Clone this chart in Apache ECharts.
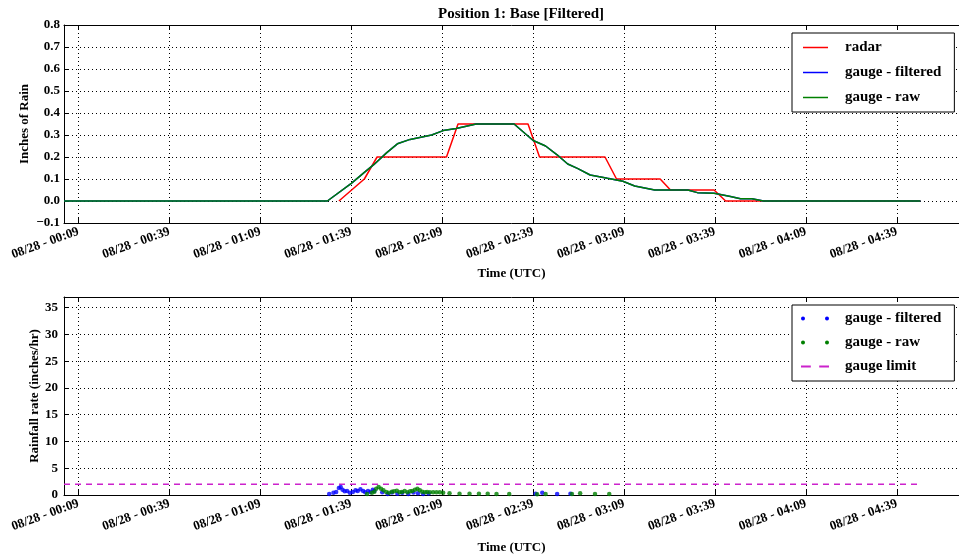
<!DOCTYPE html>
<html>
<head>
<meta charset="utf-8">
<script src="https://cdn.jsdelivr.net/npm/echarts@6/dist/echarts.min.js"></script>
<style>
  html, body { margin: 0; padding: 0; background: #fff; }
  #chart { width: 959px; height: 557px; }
</style>
</head>
<body>
<div id="chart"></div>
<script>
// ---- data -------------------------------------------------------------
const dateLabel = '08/28';
const tickTimes = ['00:09', '00:39', '01:09', '01:39', '02:09', '02:39', '03:09', '03:39', '04:09', '04:39'];
const axisStart = '00:04:12';
const axisEnd = '04:59:30';

// accumulated rain, radar estimate (inches)
const radarTimes = ['01:34:54', '01:43:18', '01:47:30', '02:10:24', '02:14:12', '02:37:18', '02:41:06',
  '03:02:42', '03:06:30', '03:20:54', '03:24:18', '03:38:42', '03:42:30', '04:46:48'];
const radarValues = [0, 0.1, 0.2, 0.2, 0.35, 0.35, 0.2, 0.2, 0.1, 0.1, 0.05, 0.05, 0, 0];

// accumulated rain, gauge (inches)
const gaugeTimes = ['00:04:12', '01:31:06', '01:39:00', '01:43:18', '01:46:24', '01:50:42', '01:54:12',
  '01:58:24', '02:05:30', '02:09:18', '02:13:36', '02:20:12', '02:32:42', '02:39:00', '02:43:06',
  '02:46:54', '02:50:24', '02:53:36', '02:57:48', '03:03:30', '03:08:36', '03:12:30', '03:19:06',
  '03:30:00', '03:33:12', '03:38:42', '03:44:06', '03:47:24', '03:51:12', '03:55:00', '04:46:48'];
const gaugeFilteredValues = [0, 0, 0.08, 0.13, 0.165, 0.22, 0.26, 0.28, 0.30, 0.32, 0.33, 0.35, 0.35,
  0.275, 0.25, 0.21, 0.168, 0.148, 0.118, 0.103, 0.09, 0.068, 0.05, 0.05, 0.038, 0.035, 0.02, 0.01,
  0.01, 0, 0];
const gaugeRawValues = [0, 0, 0.08, 0.13, 0.165, 0.22, 0.26, 0.28, 0.30, 0.32, 0.33, 0.35, 0.35,
  0.275, 0.25, 0.21, 0.168, 0.148, 0.118, 0.103, 0.09, 0.068, 0.05, 0.05, 0.038, 0.035, 0.02, 0.01,
  0.01, 0, 0];

// rainfall rate (inches/hr)
const rateFilteredTimes = ['01:31:42', '01:33:06', '01:34:00', '01:34:54', '01:35:30', '01:36:06',
  '01:36:48', '01:37:36', '01:38:30', '01:39:30', '01:40:24', '01:41:06', '01:42:00', '01:42:54',
  '01:43:36', '01:44:30', '01:45:18', '01:46:06', '01:46:36', '01:49:12', '01:51:00', '01:52:24',
  '01:54:12', '01:55:48', '01:57:48', '01:59:30', '02:01:00', '02:02:42', '02:04:30',
  '02:39:48', '02:42:00', '02:46:54', '02:51:18'];
const rateFilteredValues = [0.19, 0.44, 0.56, 1.31, 1.5, 1.0, 0.69, 0.75, 0.44, 0.56, 0.88, 0.75, 1.06,
  0.75, 0.5, 0.75, 0.56, 1.0, 0.75, 0.5, 0.19, 0.45, 0.25, 0.4, 0.19, 0.45, 0.35, 0.19, 0.3,
  0.25, 0.44, 0.19, 0.25];
const rateRawTimes = ['01:44:12', '01:45:48', '01:46:36', '01:47:12', '01:48:00', '01:48:48', '01:49:36',
  '01:50:30', '01:51:24', '01:52:24', '01:53:06', '01:54:00', '01:54:54', '01:55:42', '01:56:36',
  '01:57:30', '01:58:24', '01:59:06', '02:00:00', '02:00:48', '02:01:36', '02:02:24', '02:03:18',
  '02:04:00', '02:04:54', '02:06:00', '02:07:06', '02:08:12', '02:09:18', '02:11:24', '02:14:42',
  '02:18:00', '02:21:06', '02:24:00', '02:26:54', '02:31:06', '02:40:18', '02:43:06', '02:51:48',
  '02:54:30', '02:59:24', '03:04:06'];
const rateRawValues = [0.19, 0.44, 0.63, 1.19, 1.5, 1.19, 0.88, 0.56, 0.44, 0.63, 0.69, 0.81, 0.5, 0.56,
  0.75, 0.5, 0.69, 0.75, 1.0, 1.19, 0.88, 0.63, 0.5, 0.56, 0.5, 0.5, 0.5, 0.5, 0.44, 0.31, 0.25,
  0.25, 0.25, 0.25, 0.19, 0.19, 0.13, 0.19, 0.19, 0.31, 0.19, 0.19];

const gaugeLimit = 2.0;

// ---- helpers ----------------------------------------------------------
const FONT = 'Liberation Serif';
const toMin = t => {
  const p = t.split(':').map(Number);
  return p[0] * 60 + p[1] + (p[2] || 0) / 60;
};
const pad2 = n => String(n).padStart(2, '0');
const minLabel = v => {
  const m = Math.round(v);
  return dateLabel + ' - ' + pad2(Math.floor(m / 60)) + ':' + pad2(m % 60);
};
const pairs = (times, values) => times.map((t, i) => [toMin(t), values[i]]);
const tickValues = tickTimes.map(toMin);
const xMin = toMin(axisStart);
const xMax = toMin(axisEnd);
const gaugeSpan = [toMin(gaugeTimes[0]), toMin(gaugeTimes[gaugeTimes.length - 1])];

const boldText = size => ({ fontFamily: FONT, fontWeight: 'bold', fontSize: size, color: '#000' });
const gridDots = { show: true, lineStyle: { color: '#000', width: 1, type: [1, 3] } };

function bottomTimeAxis(gridIndex, nameGap) {
  return {
    type: 'value', gridIndex, position: 'bottom', min: xMin, max: xMax,
    axisLine: { show: true, onZero: false, lineStyle: { color: '#000', width: 1 } },
    axisTick: { show: true, inside: true, length: 5, customValues: tickValues, lineStyle: { color: '#000' } },
    axisLabel: Object.assign({ customValues: tickValues, formatter: minLabel, rotate: 20, margin: 8 }, boldText(13)),
    splitLine: gridDots,
    name: 'Time (UTC)', nameLocation: 'middle', nameGap, nameTextStyle: boldText(13)
  };
}
function topTimeAxis(gridIndex) {
  return {
    type: 'value', gridIndex, position: 'top', min: xMin, max: xMax,
    axisLine: { show: true, onZero: false, lineStyle: { color: '#000', width: 1 } },
    axisTick: { show: true, inside: true, length: 5, customValues: tickValues, lineStyle: { color: '#000' } },
    axisLabel: { show: false },
    splitLine: { show: false }
  };
}

const chart = echarts.init(document.getElementById('chart'), null, { renderer: 'canvas' });

// legend glyphs: plain stroke, pair of dots, and two dashes
const lineIcon = 'path://M0,0h25v1.5h-25z';
const dotsIcon = 'path://M0,2a2,2 0 1,0 4,0a2,2 0 1,0 -4,0M24,2a2,2 0 1,0 4,0a2,2 0 1,0 -4,0';
const dashIcon = 'path://M0,0h7v1.5h-7zM13,0h7v1.5h-7z';

chart.setOption({
  animation: false,
  backgroundColor: '#fff',
  title: {
    text: 'Position 1: Base [Filtered]',
    left: 516, top: 2, textAlign: 'center',
    textStyle: boldText(15)
  },
  grid: [
    { left: 64, top: 25, right: -8, height: 198, containLabel: false },
    { left: 64, top: 297, right: -8, height: 198, containLabel: false }
  ],
  xAxis: [bottomTimeAxis(0, 44), topTimeAxis(0), bottomTimeAxis(1, 46), topTimeAxis(1)],
  yAxis: [
    {
      type: 'value', gridIndex: 0, min: -0.1, max: 0.8, interval: 0.1,
      axisLine: { show: true, lineStyle: { color: '#000', width: 1 } },
      axisTick: { show: true, inside: true, length: 5, lineStyle: { color: '#000' } },
      axisLabel: Object.assign({
        margin: 4,
        formatter: v => (v < -1e-9 ? '\u2212' : '') + Math.abs(v).toFixed(1)
      }, boldText(13)),
      splitLine: gridDots,
      name: 'Inches of Rain', nameLocation: 'middle', nameGap: 33, nameMoveOverlap: false,
      nameTextStyle: boldText(13)
    },
    {
      type: 'value', gridIndex: 1, min: 0, max: 37, interval: 5,
      axisLine: { show: true, lineStyle: { color: '#000', width: 1 } },
      axisTick: { show: true, inside: true, length: 5, lineStyle: { color: '#000' } },
      axisLabel: Object.assign({ margin: 6, showMaxLabel: false }, boldText(13)),
      splitLine: gridDots,
      name: 'Rainfall rate (inches/hr)', nameLocation: 'middle', nameGap: 23, nameMoveOverlap: false,
      nameTextStyle: boldText(13)
    }
  ],
  legend: [
    {
      orient: 'vertical', left: 792, top: 33,
      itemWidth: 25, itemHeight: 14, itemGap: 10,
      padding: [7, 13, 7, 11],
      borderColor: '#000', borderWidth: 1, backgroundColor: '#fff',
      selectedMode: false,
      textStyle: Object.assign({ padding: [0, 0, 0, 12] }, boldText(15)),
      data: [
        { name: 'radar', icon: lineIcon },
        { name: 'gauge - filtered', icon: lineIcon },
        { name: 'gauge - raw', icon: lineIcon }
      ]
    },
    {
      orient: 'vertical', left: 792, top: 305,
      itemWidth: 28, itemHeight: 14, itemGap: 9,
      padding: [6, 13, 7, 9],
      borderColor: '#000', borderWidth: 1, backgroundColor: '#fff',
      selectedMode: false,
      textStyle: Object.assign({ padding: [0, 0, 0, 11] }, boldText(15)),
      data: [
        { name: 'gauge - filtered', icon: dotsIcon },
        { name: 'gauge - raw', icon: dotsIcon },
        { name: 'gauge limit', icon: dashIcon }
      ]
    }
  ],
  series: [
    {
      name: 'radar', type: 'line', xAxisIndex: 0, yAxisIndex: 0, symbol: 'none', z: 2,
      color: '#ff0000', lineStyle: { color: '#ff0000', width: 1.5 },
      data: pairs(radarTimes, radarValues)
    },
    {
      name: 'gauge - filtered', type: 'line', xAxisIndex: 0, yAxisIndex: 0, symbol: 'none', z: 3,
      color: '#0000ff', lineStyle: { color: '#0000ff', width: 1.5 },
      data: pairs(gaugeTimes, gaugeFilteredValues)
    },
    {
      name: 'gauge - raw', type: 'line', xAxisIndex: 0, yAxisIndex: 0, symbol: 'none', z: 4,
      color: '#008000', lineStyle: { color: '#008000', width: 1.5 },
      data: pairs(gaugeTimes, gaugeRawValues)
    },
    {
      name: 'gauge - filtered', type: 'scatter', xAxisIndex: 2, yAxisIndex: 1, symbolSize: 4.5, z: 3,
      color: '#0000ff', itemStyle: { color: '#0000ff' },
      data: pairs(rateFilteredTimes, rateFilteredValues)
    },
    {
      name: 'gauge - raw', type: 'scatter', xAxisIndex: 2, yAxisIndex: 1, symbolSize: 4.5, z: 4,
      color: '#008000', itemStyle: { color: '#008000' },
      data: pairs(rateRawTimes, rateRawValues)
    },
    {
      name: 'gauge limit', type: 'line', xAxisIndex: 2, yAxisIndex: 1, symbol: 'none', z: 2,
      color: '#cc22cc', lineStyle: { color: '#cc22cc', width: 1.5, type: [6, 5] },
      data: [[gaugeSpan[0], gaugeLimit], [gaugeSpan[1], gaugeLimit]]
    }
  ]
});
</script>
</body>
</html>
